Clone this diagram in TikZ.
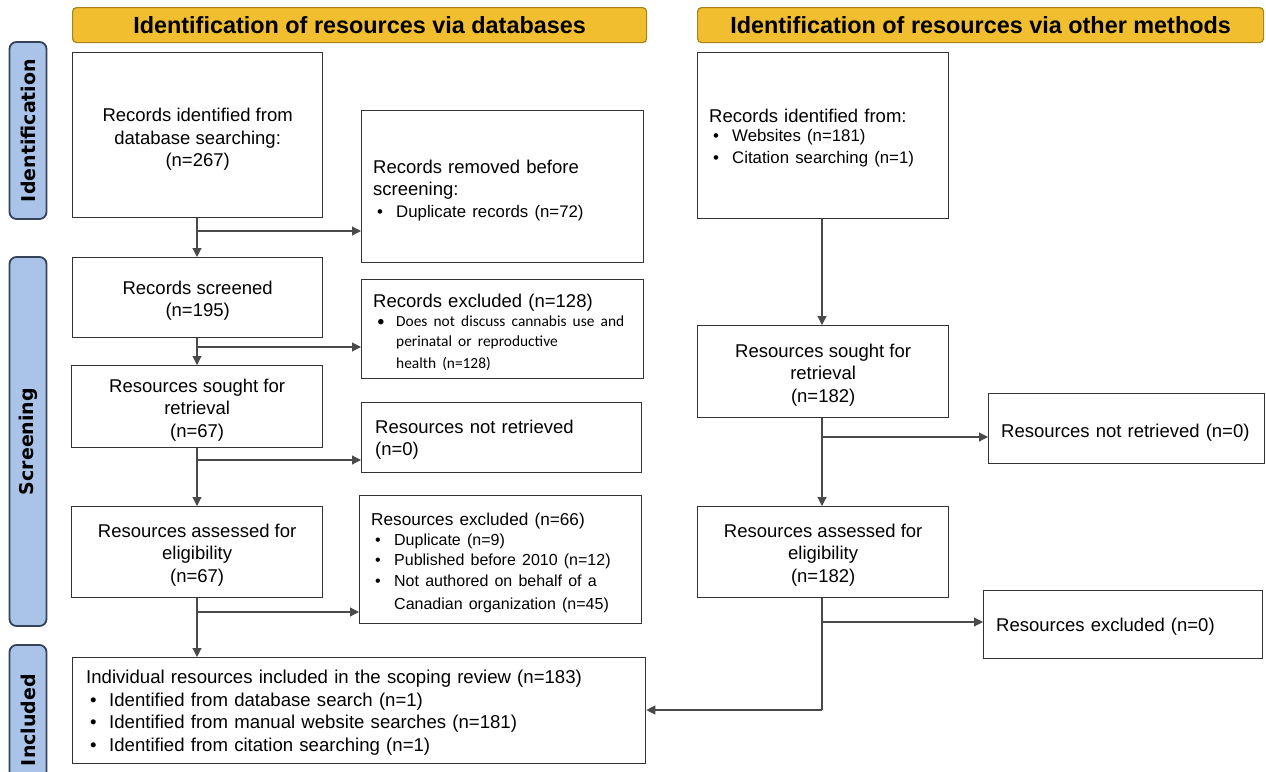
\documentclass[tikz,border=0pt]{standalone}
\usepackage{fontspec}
\setmainfont{Liberation Sans}
\newfontfamily\calib{Carlito}
\newfontfamily\sidefont{DejaVu Sans}
\usetikzlibrary{arrows.meta}
\definecolor{hdrfill}{HTML}{F0BE2E}
\definecolor{hdrdraw}{HTML}{A88318}
\definecolor{sidefill}{HTML}{A9C4E8}
\definecolor{sidedraw}{HTML}{34425A}
\definecolor{boxdraw}{HTML}{333333}
\definecolor{lncol}{HTML}{4A4A4A}
\newcommand{\mainsz}{\fontsize{18.5pt}{22.5pt}\selectfont}
\newcommand{\bulsz}{\fontsize{16.8pt}{20.5pt}\selectfont}
\newcommand{\bit}[1]{\makebox[23pt][l]{\hspace*{4pt}\textbullet}#1}
\newcommand{\bcont}{\hspace*{23pt}}
\begin{document}
\begin{tikzpicture}[x=1pt,y=-1pt,
  hdr/.style={draw=hdrdraw, fill=hdrfill, line width=1.2pt, rounded corners=4pt,
    anchor=north west, inner sep=0pt, font=\bfseries\fontsize{23.4pt}{26pt}\selectfont},
  side/.style={draw=sidedraw, fill=sidefill, line width=1.8pt, rounded corners=7pt,
    rotate=90, inner sep=0pt, minimum height=37pt,
    font=\sidefont\bfseries\fontsize{19pt}{22pt}\selectfont},
  box/.style={draw=boxdraw, line width=1.3pt, anchor=north west, inner sep=0pt},
  ctxt/.style={inner sep=0pt, align=center, font=\mainsz},
  ltxt/.style={inner sep=0pt, align=left, anchor=west, font=\mainsz, text width=265pt},
  arr/.style={draw=lncol, line width=1.1pt, -{Triangle[length=9pt,width=9pt]}},
  ln/.style={draw=lncol, line width=1.1pt}
]
\useasboundingbox (0,0) rectangle (1266,771);

% headers
\node[hdr, minimum width=574pt, minimum height=35pt] (h1) at (72,7) {Identification of resources via databases};
\node[hdr, minimum width=566pt, minimum height=35pt] (h2) at (697,7) {Identification of resources via other methods};

% side labels
\node[side, minimum width=177pt] (s1) at (28,130.5) {Identification};
\node[side, minimum width=369pt] (s2) at (28,441.5) {Screening};
\node[side, minimum width=150pt] (s3) at (28,720) {Included};

% left column boxes
\node[box, minimum width=250pt, minimum height=165pt] (b1) at (72,52) {};
\node[box, minimum width=282pt, minimum height=152pt] (b2) at (361,110) {};
\node[box, minimum width=250pt, minimum height=80pt]  (b3) at (72,257) {};
\node[box, minimum width=282pt, minimum height=99pt]  (b4) at (361,279) {};
\node[box, minimum width=251pt, minimum height=82pt]  (b5) at (71,365) {};
\node[box, minimum width=280pt, minimum height=70pt]  (b6) at (361,402) {};
\node[box, minimum width=251pt, minimum height=91pt]  (b7) at (71,506) {};
\node[box, minimum width=282pt, minimum height=128pt] (b8) at (359,495) {};
\node[box, minimum width=573pt, minimum height=106pt] (b9) at (72,657) {};
% right column boxes
\node[box, minimum width=251pt, minimum height=166pt] (r1) at (697,52) {};
\node[box, minimum width=251pt, minimum height=92pt]  (r2) at (697,325) {};
\node[box, minimum width=276pt, minimum height=70pt]  (r3) at (988,393) {};
\node[box, minimum width=251pt, minimum height=91pt]  (r4) at (697,506) {};
\node[box, minimum width=279pt, minimum height=68pt]  (r5) at (983,590) {};

% texts
\node[ctxt] (b1t) at ([yshift=-4.5pt]b1.center) {Records identified from\\database searching:\\(n=267)};
\node[ltxt] (b2t) at ([xshift=12pt,yshift=-3.5pt]b2.west)
  {Records removed before\\screening:\\[-1pt]{\bulsz\bit{Duplicate records (n=72)}}};
\node[ctxt] (b3t) at ([yshift=-3pt]b3.center) {Records screened\\(n=195)};
\node[ltxt, text width=300pt] (b4t) at ([xshift=12pt,yshift=-3pt]b4.west)
  {Records excluded (n=128)\\[-1pt]
   {\calib\fontsize{15.4pt}{20pt}\selectfont\bit{Does not discuss cannabis use and}\\
   \bcont perinatal or reproductive\\
   \bcont health (n=128)}};
\node[ctxt] (b5t) at ([yshift=-3.5pt]b5.center) {Resources sought for\\retrieval\\(n=67)};
\node[ltxt] (b6t) at ([xshift=14pt,yshift=-2pt]b6.west) {Resources not retrieved\\(n=0)};
\node[ctxt] (b7t) at ([yshift=-3pt]b7.center) {Resources assessed for\\eligibility\\(n=67)};
\node[ltxt] (b8t) at ([xshift=12pt,yshift=-3pt]b8.west)
  {{\fontsize{17.2pt}{20.5pt}\selectfont Resources excluded (n=66)}\\[-1pt]
   {\fontsize{16pt}{20.8pt}\selectfont\bit{Duplicate (n=9)}\\
   \bit{Published before 2010 (n=12)}\\
   \bit{Not authored on behalf of a}\\
   \bcont Canadian organization (n=45)}};
\node[ltxt, text width=545pt, font=\fontsize{18.6pt}{22.5pt}\selectfont] (b9t) at ([xshift=14pt,yshift=-2pt]b9.west)
  {Individual resources included in the scoping review (n=183)\\
   \bit{Identified from database search (n=1)}\\
   \bit{Identified from manual website searches (n=181)}\\
   \bit{Identified from citation searching (n=1)}};
\node[ltxt, text width=230pt] (r1t) at ([xshift=12pt,yshift=-2.5pt]r1.west)
  {Records identified from:\\[-2pt]
   {\bulsz\bit{Websites (n=181)}\\\bit{Citation searching (n=1)}}};
\node[ctxt] (r2t) at ([yshift=-3.5pt]r2.center) {Resources sought for\\retrieval\\(n=182)};
\node[ltxt] (r3t) at ([xshift=13pt,yshift=-4pt]r3.west) {Resources not retrieved (n=0)};
\node[ctxt] (r4t) at ([yshift=-3pt]r4.center) {Resources assessed for\\eligibility\\(n=182)};
\node[ltxt] (r5t) at ([xshift=13pt,yshift=-2pt]r5.west) {Resources excluded (n=0)};

% junction coordinates
\coordinate (j1) at (197,231);
\coordinate (j2) at (197,347);
\coordinate (j3) at (197,460);
\coordinate (j4) at (197,612);
\coordinate (k1) at (822,437);
\coordinate (k2) at (822,622);
\coordinate (k3) at (822,710);

% left connectors
\draw[arr] (b1.south -| j1) -- (b3.north -| j1);
\draw[arr] (j1) -- (b2.west |- j1);
\draw[arr] (b3.south -| j2) -- (b5.north -| j2);
\draw[arr] (j2) -- (b4.west |- j2);
\draw[arr] (b5.south -| j3) -- (b7.north -| j3);
\draw[arr] (j3) -- (b6.west |- j3);
\draw[arr] (b7.south -| j4) -- (b9.north -| j4);
\draw[arr] (j4) -- (b8.west |- j4);

% right connectors
\draw[arr] (r1.south -| k1) -- (r2.north -| k1);
\draw[arr] (r2.south -| k1) -- (r4.north -| k1);
\draw[arr] (k1) -- (r3.west |- k1);
\draw[arr] (k2) -- (r5.west |- k2);
\draw[ln] (r4.south -| k3) -- (k3);
\draw[arr] (k3) -- (b9.east |- k3);
\end{tikzpicture}
\end{document}
